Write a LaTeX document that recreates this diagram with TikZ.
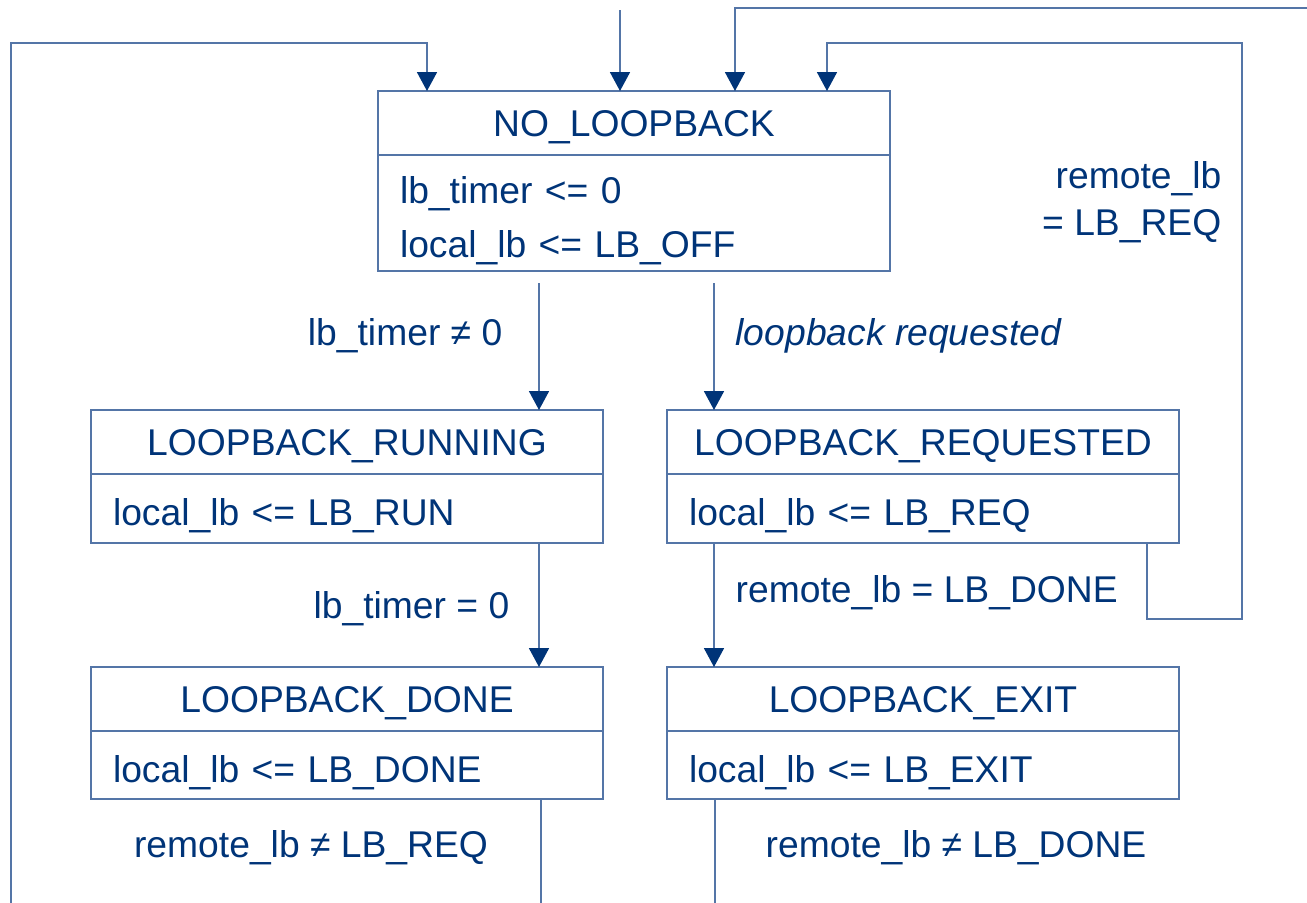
\documentclass[tikz,border=0pt]{standalone}
\usepackage{fontspec}
\setmainfont{Liberation Sans}
\usetikzlibrary{arrows.meta}
\definecolor{lbblue}{HTML}{003478}
\definecolor{lbline}{HTML}{5475A7}

\begin{document}
\begin{tikzpicture}[font=\fontsize{10.6}{15.3}\selectfont, text=lbblue,
    head/.style={draw=lbline, line width=0.5pt, minimum width=5.12cm,
                 minimum height=0.64cm, inner sep=0pt, outer sep=0pt,
                 text height=0.27cm, text depth=0cm},
    body/.style={draw=lbline, line width=0.5pt, anchor=north, text width=4.68cm,
                 inner xsep=0.22cm, inner ysep=0pt, outer sep=0pt, align=left,
                 text height=0.34cm, text depth=0cm},
    tr/.style={lbline, line width=0.5pt,
               -{Triangle[length=0.19cm, width=0.2cm, color=lbblue]}},
    lbl/.style={inner sep=0pt}]
    \useasboundingbox (0,0) rectangle (13.07,-9.02);
    \clip (0,0) rectangle (13.07,-9.02);

    \node[head] (nolb) at (6.34,-1.23) {NO\_LOOPBACK};
    \node[body, minimum height=1.16cm, text height=0.27cm, text depth=0.46cm]
      (nolbbody) at (nolb.south) {lb\_timer <= 0\\local\_lb <= LB\_OFF};
    \node[head] (run) at (3.47,-4.42) {LOOPBACK\_RUNNING};
    \node[body, minimum height=0.69cm] (runbody) at (run.south) {local\_lb <= LB\_RUN};
    \node[head] (req) at (9.23,-4.42) {LOOPBACK\_REQUESTED};
    \node[body, minimum height=0.69cm] (reqbody) at (req.south) {local\_lb <= LB\_REQ};
    \node[head] (done) at (3.47,-6.99) {LOOPBACK\_DONE};
    \node[body, minimum height=0.68cm] (donebody) at (done.south) {local\_lb <= LB\_DONE};
    \node[head] (exit) at (9.23,-6.99) {LOOPBACK\_EXIT};
    \node[body, minimum height=0.68cm] (exitbody) at (exit.south) {local\_lb <= LB\_EXIT};

    \coordinate (init) at (6.20,-0.10);
    \coordinate (nolbl) at ([xshift=-0.95cm, yshift=-0.12cm]nolbbody.south);
    \coordinate (nolbr) at ([xshift=0.80cm, yshift=-0.12cm]nolbbody.south);
    \coordinate (runout) at ([xshift=1.92cm]runbody.south);
    \coordinate (reqout) at ([xshift=0.47cm]reqbody.south west);
    \draw[tr] (init) -- (init |- nolb.north);
    \draw[tr] (nolbl) -- (nolbl |- run.north);
    \draw[tr] (nolbr) -- (nolbr |- req.north);
    \draw[tr] (runout) -- (runout |- done.north);
    \draw[tr] (reqout) -- (reqout |- exit.north);
    \draw[tr] ([xshift=-0.32cm]reqbody.south east) |- (12.42,-6.19)
      -- (12.42,-0.43) -| ([xshift=-0.63cm]nolb.north east);
    \draw[tr] ([xshift=-0.62cm]donebody.south east) -- ++(0,-1.5)
      -| (0.11,-0.43) -| ([xshift=0.49cm]nolb.north west);
    \draw[tr] ([xshift=0.48cm]exitbody.south west) -- ++(0,-1.5)
      -| (13.5,-0.08) -| ([xshift=3.57cm]nolb.north west);

    \node[lbl, anchor=east] (tnz) at (5.03,-3.36) {lb\_timer ≠ 0};
    \node[lbl, anchor=west] (lreq) at (7.35,-3.36) {\itshape loopback requested};
    \node[lbl, anchor=east] (tz) at (5.10,-6.09) {lb\_timer = 0};
    \node[lbl, anchor=west] (rdone) at (7.35,-5.93) {remote\_lb = LB\_DONE};
    \node[lbl, anchor=east, align=right] (rreq) at (12.22,-2.02) {remote\_lb\\[-0.07cm]= LB\_REQ};
    \node[lbl] (rnreq) at (3.11,-8.48) {remote\_lb ≠ LB\_REQ};
    \node[lbl] (rndone) at (9.56,-8.48) {remote\_lb ≠ LB\_DONE};
  \end{tikzpicture}
\end{document}
